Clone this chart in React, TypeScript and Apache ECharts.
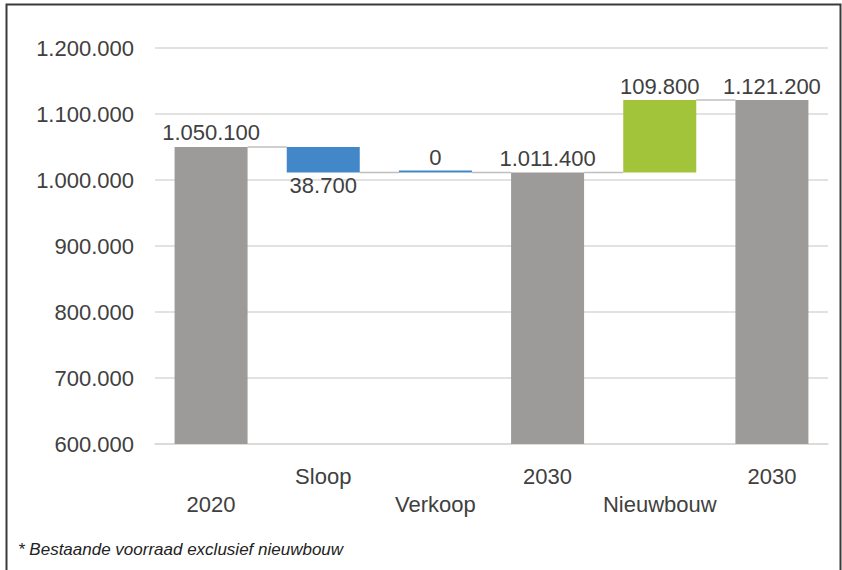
import React, { useEffect, useRef } from "react";
import * as echarts from "echarts";

const categories = ["2020", "Sloop", "Verkoop", "2030", "Nieuwbouw", "2030"];
const changes = [1050100, -38700, 0, 1011400, 109800, 1121200];
const isTotal = [true, false, false, true, false, true];
const yTicks = [600000, 700000, 800000, 900000, 1000000, 1100000, 1200000];
const footnote = "* Bestaande voorraad exclusief nieuwbouw";

const FONT = "'Liberation Sans', Arial, sans-serif";
const TEXT = "#404040";
const GRAY = "#9d9b99";
const BLUE = "#4287c7";
const GREEN = "#a1c43b";
const BAR_W = 73;

const fmt = (v: number) => String(Math.abs(v)).replace(/\B(?=(\d{3})+(?!\d))/g, ".");

export default function App() {
  const ref = useRef<HTMLDivElement>(null);
  useEffect(() => {
    if (!ref.current) return;
    const chart = echarts.init(ref.current, null, { renderer: "svg" });

    const base: any[] = [];
    const totals: any[] = [];
    const downs: any[] = [];
    const ups: any[] = [];
    const levels: number[] = [];
    let running = 0;
    changes.forEach((v, i) => {
      if (isTotal[i]) {
        running = v;
        base.push("-");
        totals.push(v);
        downs.push("-");
        ups.push("-");
      } else if (v <= 0) {
        base.push(running + v);
        totals.push("-");
        downs.push({ value: -v, label: { position: v === 0 ? "top" : "bottom" } });
        ups.push("-");
        running += v;
      } else {
        base.push(running);
        totals.push("-");
        downs.push("-");
        ups.push(v);
        running += v;
      }
      levels.push(running);
    });
    const connectors = levels.slice(0, -1).map((lv, i) => [i, lv]);

    const labelStyle = {
      show: true,
      position: "top",
      distance: 3,
      fontFamily: FONT,
      fontSize: 22,
      color: TEXT,
      formatter: (p: any) => fmt(p.value),
    };

    const yMin = yTicks[0];
    const yMax = yTicks[yTicks.length - 1];
    const yInt = yTicks[1] - yTicks[0];

    chart.setOption({
      animation: false,
      grid: { left: 155, right: 14, top: 48, bottom: 126, containLabel: false },
      xAxis: {
        type: "category",
        data: categories,
        axisTick: { show: false },
        axisLine: { show: true, lineStyle: { color: "#d9d9d9", width: 1.5 } },
        axisLabel: {
          interval: 0,
          margin: 18,
          fontFamily: FONT,
          fontSize: 22,
          color: TEXT,
          lineHeight: 28,
          formatter: (v: string, idx: number) => (idx % 2 === 0 ? "\n" + v : v),
        },
      },
      yAxis: {
        type: "value",
        min: yMin,
        max: yMax,
        interval: yInt,
        axisLine: { show: false },
        axisTick: { show: false },
        splitLine: { lineStyle: { color: "#d9d9d9", width: 1.5 } },
        axisLabel: {
          margin: 21,
          fontFamily: FONT,
          fontSize: 22,
          color: TEXT,
          formatter: (v: number) => fmt(v),
        },
      },
      series: [
        {
          type: "bar",
          stack: "w",
          barWidth: BAR_W,
          data: base,
          itemStyle: { color: "transparent" },
          emphasis: { disabled: true },
          silent: true,
        },
        {
          type: "bar",
          stack: "w",
          barWidth: BAR_W,
          data: totals,
          itemStyle: { color: GRAY },
          label: labelStyle,
        },
        {
          type: "bar",
          stack: "w",
          barWidth: BAR_W,
          barMinHeight: 2,
          data: downs,
          itemStyle: { color: BLUE },
          label: { ...labelStyle, distance: 2 },
        },
        {
          type: "bar",
          stack: "w",
          barWidth: BAR_W,
          data: ups,
          itemStyle: { color: GREEN },
          label: labelStyle,
        },
        {
          type: "custom",
          data: connectors,
          z: 1,
          renderItem: (params: any, api: any) => {
            const p = api.coord([api.value(0), api.value(1)]);
            const w = api.size([1, 0])[0];
            return {
              type: "line",
              shape: {
                x1: p[0] + BAR_W / 2,
                y1: p[1],
                x2: p[0] + w - BAR_W / 2,
                y2: p[1],
              },
              style: { stroke: "#bfbfbf", lineWidth: 1.5 },
            };
          },
        },
      ],
      graphic: [
        {
          type: "rect",
          left: 4,
          top: 2,
          shape: { x: 0, y: 0, width: 834, height: 570 },
          style: { fill: "none", stroke: "#3a3a3a", lineWidth: 2 },
          silent: true,
        },
        {
          type: "text",
          left: 18,
          top: 541,
          style: {
            text: footnote,
            fontFamily: FONT,
            fontStyle: "italic",
            fontSize: 17,
            fill: "#222222",
          },
        },
      ],
    });
    return () => chart.dispose();
  }, []);
  return (
    <div
      ref={ref}
      style={{ position: "fixed", left: 0, top: 0, width: 842, height: 570, background: "#fff" }}
    />
  );
}
